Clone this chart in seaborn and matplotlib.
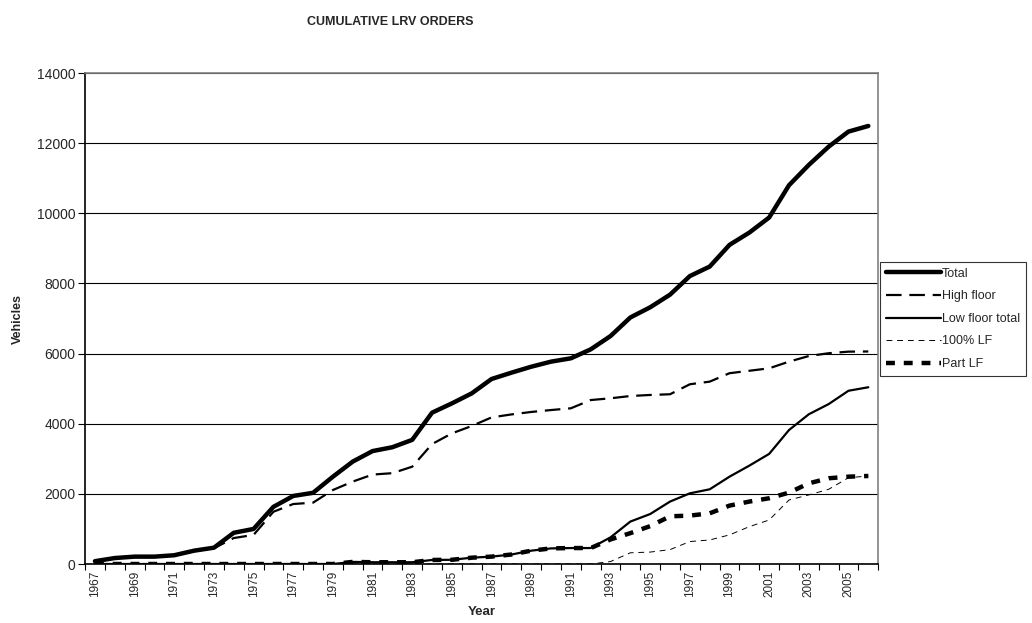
import numpy as np
import pandas as pd
import matplotlib
matplotlib.use('Agg')
import matplotlib.pyplot as plt
import seaborn as sns

#chart values
years = list(range(1967, 2007))

total = [80, 170, 210, 210, 250, 380, 465, 890, 1000, 1630,
         1940, 2030, 2490, 2920, 3220, 3330, 3540, 4315, 4580, 4865,
         5275, 5455, 5625, 5770, 5865, 6120, 6500, 7030, 7320, 7680,
         8210, 8480, 9100, 9450, 9880, 10800, 11380, 11900, 12330, 12490]

high_floor = [70, 160, 200, 200, 240, 370, 450, 740, 830, 1490,
              1710, 1750, 2110, 2350, 2550, 2590, 2775, 3420, 3725, 3935,
              4180, 4265, 4335, 4390, 4440, 4675, 4725, 4790, 4820, 4840,
              5125, 5200, 5440, 5510, 5580, 5770, 5930, 6010, 6055, 6060]

low_floor_total = [0, 0, 0, 0, 0, 0, 0, 0, 0, 0,
                   0, 0, 0, 60, 50, 50, 50, 115, 120, 180,
                   210, 270, 380, 445, 455, 455, 760, 1210, 1425, 1780,
                   2015, 2130, 2490, 2805, 3140, 3820, 4270, 4560, 4940, 5040]

lf_100 = [0, 0, 0, 0, 0, 0, 0, 0, 0, 0,
          0, 0, 0, 0, 0, 0, 0, 0, 0, 0,
          0, 0, 0, 0, 0, 0, 70, 320, 340, 410,
          640, 685, 830, 1065, 1255, 1825, 1970, 2130, 2460, 2510]

part_lf = [0, 0, 0, 0, 0, 0, 0, 0, 0, 0,
           0, 0, 0, 60, 50, 50, 50, 115, 120, 180,
           210, 270, 380, 445, 455, 455, 700, 880, 1080, 1360,
           1380, 1445, 1665, 1780, 1875, 2035, 2300, 2445, 2490, 2510]

data = pd.DataFrame({
    'year': years,
    'Total': total,
    'High floor': high_floor,
    'Low floor total': low_floor_total,
    '100% LF': lf_100,
    'Part LF': part_lf,
})

sns.set_style('white')
plt.rcParams['font.family'] = ['Liberation Sans', 'DejaVu Sans']

fig = plt.figure(figsize=(10.32, 6.23), dpi=100)
ax = fig.add_axes([0.0824, 0.0947, 0.7686, 0.7881])

#series styles: (column, linewidth, dash pattern)
styles = [
    ('Total', 3.2, None),
    ('High floor', 1.6, (7, 3.5)),
    ('Low floor total', 1.6, None),
    ('100% LF', 0.7, (6, 5)),
    ('Part LF', 3.2, (2, 2)),
]

for name, lw, dash in styles:
    sns.lineplot(data=data, x='year', y=name, ax=ax, color='black',
                 linewidth=lw, label=name)
    line = ax.lines[-1]
    if dash is not None:
        line.set_dashes(dash)

#axes limits and ticks
ax.set_xlim(1966.5, 2006.5)
ax.set_ylim(0, 14000)
ax.set_yticks(range(0, 14001, 2000))
ax.set_xticks(years[::2])
ax.set_xticklabels([str(y) for y in years[::2]], rotation=90, fontsize=8.5)
ax.set_xticks(np.arange(1966.5, 2007, 1), minor=True)
ax.tick_params(axis='x', which='major', length=0, pad=5)
ax.tick_params(axis='x', which='minor', length=4, width=0.8, color='black', direction='out', bottom=True)
ax.tick_params(axis='y', length=5, width=0.8, color='black', direction='out', left=True, labelsize=10, pad=2)

#horizontal grid only
ax.yaxis.grid(True, color='black', linewidth=0.8)
ax.xaxis.grid(False)
ax.set_axisbelow(True)

for side in ['left', 'bottom']:
    ax.spines[side].set_color('black')
    ax.spines[side].set_linewidth(1.2)
for side in ['top', 'right']:
    ax.spines[side].set_color('#808080')
    ax.spines[side].set_linewidth(1.2)

ax.set_xlabel('Year', fontsize=9.5, fontweight='bold', labelpad=6)
ax.set_ylabel('Vehicles', fontsize=9, fontweight='bold', labelpad=9)

fig.text(390 / 1032, 1 - 22 / 623, 'CUMULATIVE LRV ORDERS', ha='center', va='center',
         fontsize=9, fontweight='bold')

leg = ax.legend(loc='upper left', bbox_to_anchor=(880 / 1032, 1 - 262 / 623),
                bbox_transform=fig.transFigure, fontsize=9, frameon=True,
                fancybox=False, edgecolor='black', handlelength=4.4,
                handletextpad=0.1, borderpad=0.45, labelspacing=0.85,
                borderaxespad=0)
leg.get_frame().set_linewidth(0.8)

plt.savefig('out.png', dpi=100)
